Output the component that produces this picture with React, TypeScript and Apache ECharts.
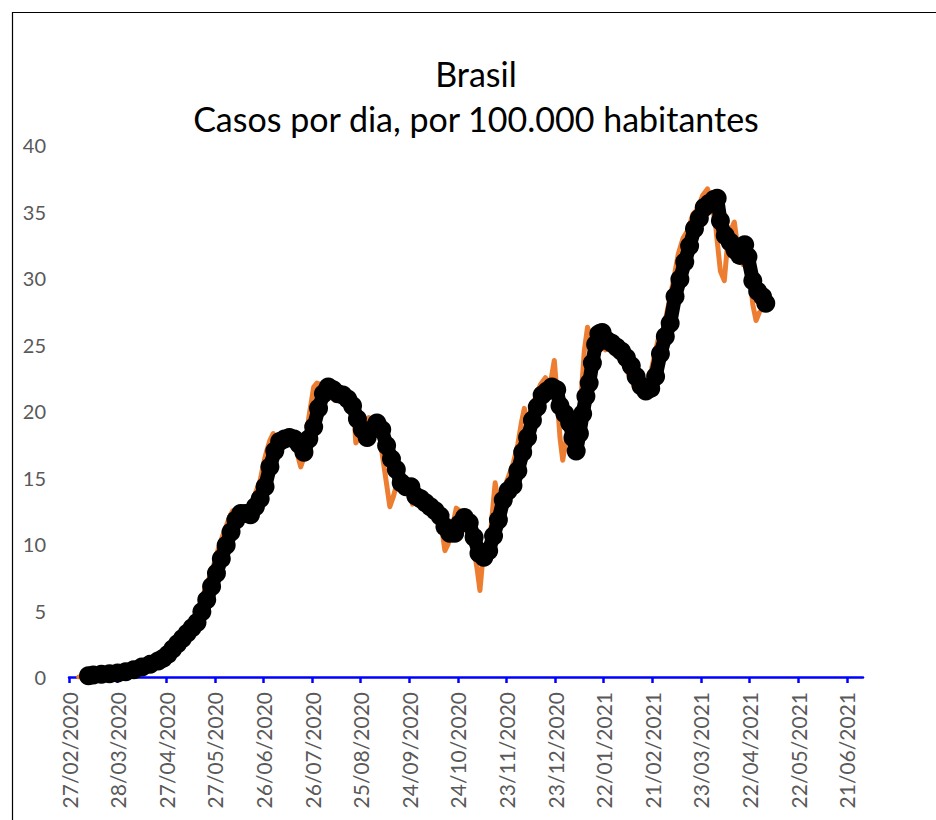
import React, { useEffect, useRef } from "react";
import * as echarts from "echarts";

const titleLine1 = "Brasil";
const titleLine2 = "Casos por dia, por 100.000 habitantes";

// x axis: days since 27/02/2020
const xTickDays = [0, 30, 60, 90, 120, 150, 180, 210, 240, 270, 300, 330, 360, 390, 420, 450, 480];
const xTickLabels = [
  "27/02/2020", "28/03/2020", "27/04/2020", "27/05/2020", "26/06/2020", "26/07/2020",
  "25/08/2020", "24/09/2020", "24/10/2020", "23/11/2020", "23/12/2020", "22/01/2021",
  "21/02/2021", "23/03/2021", "22/04/2021", "22/05/2021", "21/06/2021",
];
const xMax = 490;
const yMin = 0;
const yMax = 40;
const yStep = 5;

// daily cases per 100k (orange)
const dailyDays = [
  6, 9, 12, 16, 20, 25, 30, 35, 40, 45, 50, 55, 60, 63, 66, 69, 72, 75, 78, 81, 84, 87, 90, 93, 96, 99,
  101, 103, 106, 109, 112, 115, 118, 120, 122, 124, 126, 128, 131, 134, 137, 140, 143, 145, 148, 151,
  153, 155, 157, 160, 162, 164, 167, 170, 173, 176, 177, 179, 182, 185, 188, 191, 193, 196, 198, 200,
  203, 206, 209, 212, 215, 218, 221, 224, 227, 230, 232, 234, 237, 239, 241, 244, 246, 248, 250, 252,
  253.6, 255, 257, 259, 261, 263, 265, 268, 271, 274, 277, 279, 281, 283, 286, 288, 291, 294, 297,
  299.5, 301, 303, 304.7, 307, 310, 312, 314, 316, 318, 320, 322, 325, 328, 331, 334, 337, 340, 343,
  346, 349, 352, 355, 358, 361, 364, 367, 370, 373, 376, 379, 382, 385, 388, 391, 394, 396, 399, 402,
  404.4, 406, 408, 410.6, 413, 416, 418, 420, 422, 424, 426,
];
const dailyValues = [
  0, 0.02, 0.05, 0.1, 0.15, 0.22, 0.3, 0.42, 0.6, 0.8, 1.05, 1.4, 1.8, 2.3, 2.7, 3.0, 3.7, 4.1, 4.6, 5.6, 6.6, 7.6, 8.7, 10.0, 11.0, 12.0,
  12.5, 11.6, 12.6, 12.0, 13.0, 13.8, 14.8, 16.0, 17.0, 17.8, 18.3, 17.6, 18.2, 17.8, 18.0, 17.2, 15.8, 16.5, 19.5, 21.8,
  22.1, 22.0, 21.5, 21.0, 22.0, 20.8, 21.5, 20.6, 20.8, 19.6, 17.6, 18.0, 18.5, 19.5, 19.0, 19.6, 17.0, 14.5, 12.8, 13.5,
  14.8, 14.0, 14.6, 13.0, 13.6, 12.8, 13.2, 12.6, 12.2, 11.2, 9.5, 10.0, 11.5, 12.7, 12.5, 11.5, 10.8, 11.3, 9.6, 8.0,
  6.5, 8.4, 9.6, 9.0, 12.0, 14.6, 13.0, 14.0, 15.0, 16.0, 17.5, 19.0, 20.2, 19.0, 20.6, 21.0, 22.0, 22.5, 22.0,
  23.8, 21.5, 18.0, 16.3, 18.0, 17.5, 16.6, 18.5, 21.0, 24.5, 26.3, 25.5, 25.6, 25.0, 24.6, 25.0, 24.2, 24.0, 23.3,
  22.6, 21.8, 21.3, 21.6, 22.3, 24.0, 25.6, 26.2, 28.0, 29.8, 31.8, 33.0, 33.6, 34.8, 35.2, 36.2, 36.7, 36.0, 34.0, 30.5,
  29.8, 32.0, 33.5, 34.2, 32.0, 31.0, 32.3, 30.5, 28.0, 26.8, 27.4,
];

// moving average (black, with markers)
const avgDays = [
  12, 15, 20, 25, 30, 35, 40, 45, 50, 55, 58, 61, 64, 67, 70, 73, 76, 79, 82, 85, 88, 91, 94, 97, 100,
  103, 106, 109, 112, 115, 118, 121, 124, 127, 130, 133, 136, 139, 142, 145, 148, 151, 154, 157, 160,
  163, 166, 169, 172, 175, 178, 181, 184, 187, 190, 193, 196, 199, 202, 205, 208, 211, 214, 217, 220,
  223, 226, 229, 232, 235, 238, 241, 244, 247, 250, 253, 256, 259, 262, 265, 268, 271, 274, 277, 280,
  283, 286, 289, 292, 295, 298, 301, 303, 306, 309, 311, 313, 315, 317, 319, 321, 323, 325, 327, 329,
  332, 335, 338, 341, 344, 347, 350, 353, 356, 359, 362, 365, 368, 371, 374, 377, 380, 383, 386, 389,
  392, 395, 398, 400, 402, 405, 408, 411, 414, 417, 419, 422, 425, 428, 430,
];
const avgValues = [
  0.1, 0.15, 0.2, 0.25, 0.3, 0.4, 0.55, 0.75, 0.95, 1.2, 1.4, 1.7, 2.1, 2.5, 2.9, 3.3, 3.7, 4.1, 4.9, 5.8, 6.8, 7.8, 8.9, 9.9, 10.9,
  11.8, 12.3, 12.3, 12.2, 12.8, 13.4, 14.3, 15.8, 17.0, 17.7, 17.9, 18.0, 17.9, 17.5, 16.9, 17.9, 18.8, 20.2, 21.3, 21.8,
  21.6, 21.3, 21.2, 20.9, 20.4, 19.4, 18.6, 18.0, 18.6, 19.1, 18.6, 17.4, 16.4, 15.6, 14.6, 14.3, 14.3, 13.6, 13.4, 13.1,
  12.8, 12.5, 12.1, 11.3, 10.8, 10.8, 11.5, 12.0, 11.6, 10.5, 9.3, 9.0, 9.5, 10.6, 11.8, 13.3, 14.0, 14.4, 15.5, 16.9,
  18.0, 19.3, 20.3, 21.2, 21.5, 21.8, 21.6, 20.4, 19.8, 19.1, 18.0, 17.0, 18.3, 19.8, 21.1, 22.1, 23.6, 25.0, 25.8, 25.9,
  25.3, 25.1, 24.8, 24.5, 24.0, 23.4, 22.6, 21.9, 21.5, 21.7, 22.6, 24.3, 25.6, 26.6, 28.6, 29.9, 31.2, 32.4, 33.7, 34.5,
  35.3, 35.6, 35.9, 36.0, 34.3, 33.2, 32.7, 32.1, 31.7, 32.5, 31.6, 29.8, 29.0, 28.6, 28.1,
];

export default function App() {
  const ref = useRef<HTMLDivElement>(null);
  useEffect(() => {
    if (!ref.current) return;
    const chart = echarts.init(ref.current, undefined, { renderer: "svg" });
    const daily = dailyDays.map((d, i) => [d, dailyValues[i]]);
    const avg = avgDays.map((d, i) => [d, avgValues[i]]);
    chart.setOption({
      animation: false,
      backgroundColor: "#ffffff",
      grid: { left: 69, right: 73, top: 145, bottom: 143, containLabel: false },
      graphic: [
        {
          type: "rect",
          shape: { x: 12.5, y: 12.5, width: 1000, height: 1000 },
          style: { fill: "none", stroke: "#000000", lineWidth: 1.2 },
          silent: true,
        },
        {
          type: "text",
          x: 476,
          y: 73,
          style: {
            text: titleLine1,
            font: "34px Lato",
            fill: "#000000",
            align: "center",
            verticalAlign: "middle",
          },
        },
        {
          type: "text",
          x: 476,
          y: 118,
          style: {
            text: titleLine2,
            font: "34px Lato",
            fill: "#000000",
            align: "center",
            verticalAlign: "middle",
          },
        },
      ],
      xAxis: {
        type: "value",
        min: 0,
        max: xMax,
        splitLine: { show: false },
        axisLine: { show: true, lineStyle: { color: "#0000ff", width: 2.5 } },
        axisTick: {
          show: true,
          customValues: xTickDays,
          length: 6,
          lineStyle: { color: "#0000ff", width: 2.5 },
        },
        axisLabel: {
          customValues: xTickDays,
          rotate: 90,
          margin: 15,
          color: "#595959",
          fontFamily: "Lato",
          fontSize: 21,
          formatter: (v: number) => {
            const i = xTickDays.indexOf(Math.round(v));
            return i >= 0 ? xTickLabels[i] : "";
          },
        },
      },
      yAxis: {
        type: "value",
        min: yMin,
        max: yMax,
        interval: yStep,
        splitLine: { show: false },
        axisLine: { show: false },
        axisTick: { show: false },
        axisLabel: { color: "#595959", fontFamily: "Lato", fontSize: 20, margin: 23 },
      },
      series: [
        {
          type: "line",
          data: daily,
          showSymbol: false,
          symbol: "none",
          lineStyle: { color: "#ed7d31", width: 5, cap: "round", join: "round" },
          z: 2,
        },
        {
          type: "line",
          data: avg,
          symbol: "circle",
          symbolSize: 19,
          itemStyle: { color: "#000000" },
          lineStyle: { color: "#000000", width: 14, cap: "round", join: "round" },
          z: 3,
        },
      ],
    });
    return () => chart.dispose();
  }, []);
  return (
    <div
      ref={ref}
      style={{ position: "fixed", left: 0, top: 0, width: 936, height: 820 }}
    />
  );
}
